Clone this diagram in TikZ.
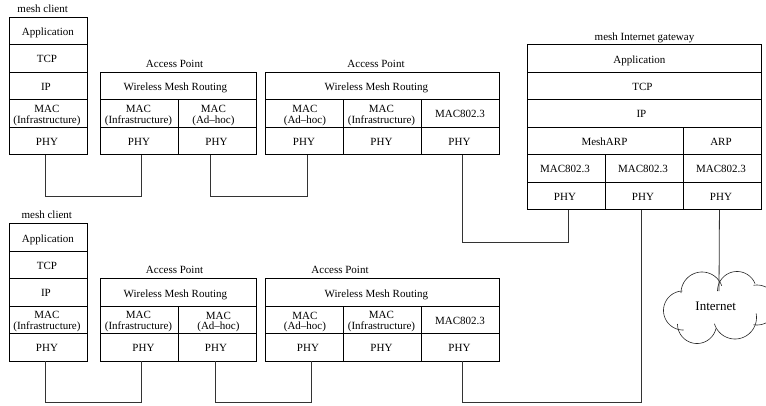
\documentclass[tikz,border=0pt]{standalone}
\usepackage{fontspec}
\setmainfont{Liberation Serif}
\newcommand{\shifted}[2]{\raisebox{-2.5pt}[\height][\depth]{\begin{tabular}{@{\hspace{#1pt}}c@{}}#2\end{tabular}}}
\newcommand{\cellat}[7]{\node[cell,minimum width=#3pt,minimum height=#4pt] (#5) at (#1,#2) {\shifted{#7}{#6}};}
\newcommand{\lobe}[5]{\draw[cloudline] plot[domain=#4:#5,samples=40,smooth] ({#1+#3*cos(\x)},{#2-#3*sin(\x)});}
\begin{document}
\begin{tikzpicture}[x=1pt,y=-1pt,
  cell/.style={draw=black,line width=0.9pt,inner sep=0pt,anchor=north west,font=\fontsize{11}{10}\selectfont,tabcolsep=0pt},
  tabcolsep/.code={\setlength{\tabcolsep}{0pt}},
  lbl/.style={inner sep=0pt,font=\fontsize{11}{10}\selectfont},
  wire/.style={draw=black!80,line width=0.8pt},
  cloudline/.style={draw=black!85,line width=0.6pt}]
\useasboundingbox (0,0) rectangle (766,405);
% top client
\node[lbl] (lc1) at (42.7,9) {mesh client};
\cellat{8.5}{16.5}{78}{27.5}{c1a}{Application}{0}
\cellat{8.5}{44}{78}{27.5}{c1t}{TCP}{-2}
\cellat{8.5}{71.5}{78}{27.5}{c1i}{IP}{-4}
\cellat{8.5}{99}{78}{27.5}{c1m}{MAC\\(Infrastructure)}{-2}
\cellat{8.5}{126.5}{78}{27.5}{c1p}{PHY}{-2}
% top AP1
\node[lbl] (la1) at (174.5,64) {Access Point};
\cellat{100}{71.5}{156}{27.5}{a1r}{Wireless Mesh Routing}{-6}
\cellat{100}{99}{78}{27.5}{a1m}{MAC\\(Infrastructure)}{-2}
\cellat{178}{99}{78}{27.5}{a1n}{MAC\\(Ad--hoc)}{-8}
\cellat{100}{126.5}{78}{27.5}{a1p}{PHY}{-1}
\cellat{178}{126.5}{78}{27.5}{a1q}{PHY}{-2}
% top AP2
\node[lbl] (la2) at (376,64) {Access Point};
\cellat{265}{71.5}{234}{27.5}{a2r}{Wireless Mesh Routing}{-12}
\cellat{265}{99}{78}{27.5}{a2m}{MAC\\(Ad--hoc)}{1}
\cellat{343}{99}{78}{27.5}{a2n}{MAC\\(Infrastructure)}{-2}
\cellat{421}{99}{78}{27.5}{a2o}{MAC802.3}{-1}
\cellat{265}{126.5}{78}{27.5}{a2p}{PHY}{-1}
\cellat{343}{126.5}{78}{27.5}{a2q}{PHY}{-2}
\cellat{421}{126.5}{78}{27.5}{a2s}{PHY}{-2}
% gateway
\node[lbl] (lg) at (644.5,38) {mesh Internet gateway};
\cellat{526.5}{44}{234}{27.5}{ga}{Application}{-9}
\cellat{526.5}{71.5}{234}{27.5}{gt}{TCP}{-3}
\cellat{526.5}{99}{234}{27.5}{gi}{IP}{-5}
\cellat{526.5}{126.5}{156}{27.5}{gm}{MeshARP}{-1}
\cellat{682.5}{126.5}{78}{27.5}{gr}{ARP}{-2}
\cellat{526.5}{154}{78}{27.5}{g1}{MAC802.3}{-2}
\cellat{604.5}{154}{78}{27.5}{g2}{MAC802.3}{-2}
\cellat{682.5}{154}{78}{27.5}{g3}{MAC802.3}{-2}
\cellat{526.5}{181.5}{78}{27.5}{gp}{PHY}{-2}
\cellat{604.5}{181.5}{78}{27.5}{gq}{PHY}{-2}
\cellat{682.5}{181.5}{78}{27.5}{gs}{PHY}{-2}
% bottom client
\node[lbl] (lc2) at (46.8,215) {mesh client};
\cellat{8.5}{223}{78}{27.5}{c2a}{Application}{0}
\cellat{8.5}{250.5}{78}{27.5}{c2t}{TCP}{-2}
\cellat{8.5}{278}{78}{27.5}{c2i}{IP}{-4}
\cellat{8.5}{305.5}{78}{27.5}{c2m}{MAC\\(Infrastructure)}{-2}
\cellat{8.5}{333}{78}{27.5}{c2p}{PHY}{-2}
% bottom AP1
\node[lbl] (lb1) at (174.5,270) {Access Point};
\cellat{100}{278}{156}{27.5}{b1r}{Wireless Mesh Routing}{-6}
\cellat{100}{305.5}{78}{27.5}{b1m}{MAC\\(Infrastructure)}{-2}
\cellat{178}{305.5}{78}{27.5}{b1n}{MAC\\(Ad--hoc)}{2}
\cellat{100}{333}{78}{27.5}{b1p}{PHY}{8}
\cellat{178}{333}{78}{27.5}{b1q}{PHY}{-3}
% bottom AP2
\node[lbl] (lb2) at (340,270) {Access Point};
\cellat{265}{278}{234}{27.5}{b2r}{Wireless Mesh Routing}{-12}
\cellat{265}{305.5}{78}{27.5}{b2m}{MAC\\(Ad--hoc)}{1}
\cellat{343}{305.5}{78}{27.5}{b2n}{MAC\\(Infrastructure)}{-2}
\cellat{421}{305.5}{78}{27.5}{b2o}{MAC802.3}{-1}
\cellat{265}{333}{78}{27.5}{b2p}{PHY}{7}
\cellat{343}{333}{78}{27.5}{b2q}{PHY}{-2}
\cellat{421}{333}{78}{27.5}{b2s}{PHY}{-2}
% cloud
\lobe{702}{293}{21}{180}{20}
\lobe{737}{291}{19.5}{180}{22}
\lobe{757}{305}{20}{100}{-100}
\lobe{735}{317.5}{21.5}{11}{-163}
\lobe{697}{324}{19.5}{-13}{-180}
\lobe{683}{310.5}{19.5}{272}{92}
\node[inner sep=0pt,font=\fontsize{13}{10}\selectfont] (inet) at (715.7,306) {Internet};
\coordinate (cl) at (719,291);
% wires
\draw[wire] ([xshift=-2.5pt]c1p.south) -- ++(0,41) -| ([xshift=2pt]a1p.south);
\draw[wire] ([xshift=-7pt]a1q.south) -- ++(0,41) -| ([xshift=2.7pt]a2p.south);
\draw[wire] ([xshift=2.3pt]a2s.south) -- ++(0,87) -| ([xshift=2.2pt]gp.south);
\draw[wire] ([xshift=-2.8pt]gq.south) -- ++(0,192.5) -| ([xshift=2.3pt]b2s.south);
\draw[wire] ([xshift=-2.5pt]gs.south) -- (cl);
\draw[wire] ([xshift=-2.5pt]c2p.south) -- ++(0,41) -| ([xshift=2pt]b1p.south);
\draw[wire] ([xshift=-2pt]b1q.south) -- ++(0,41) -| ([xshift=6.7pt]b2p.south);
\end{tikzpicture}
\end{document}
